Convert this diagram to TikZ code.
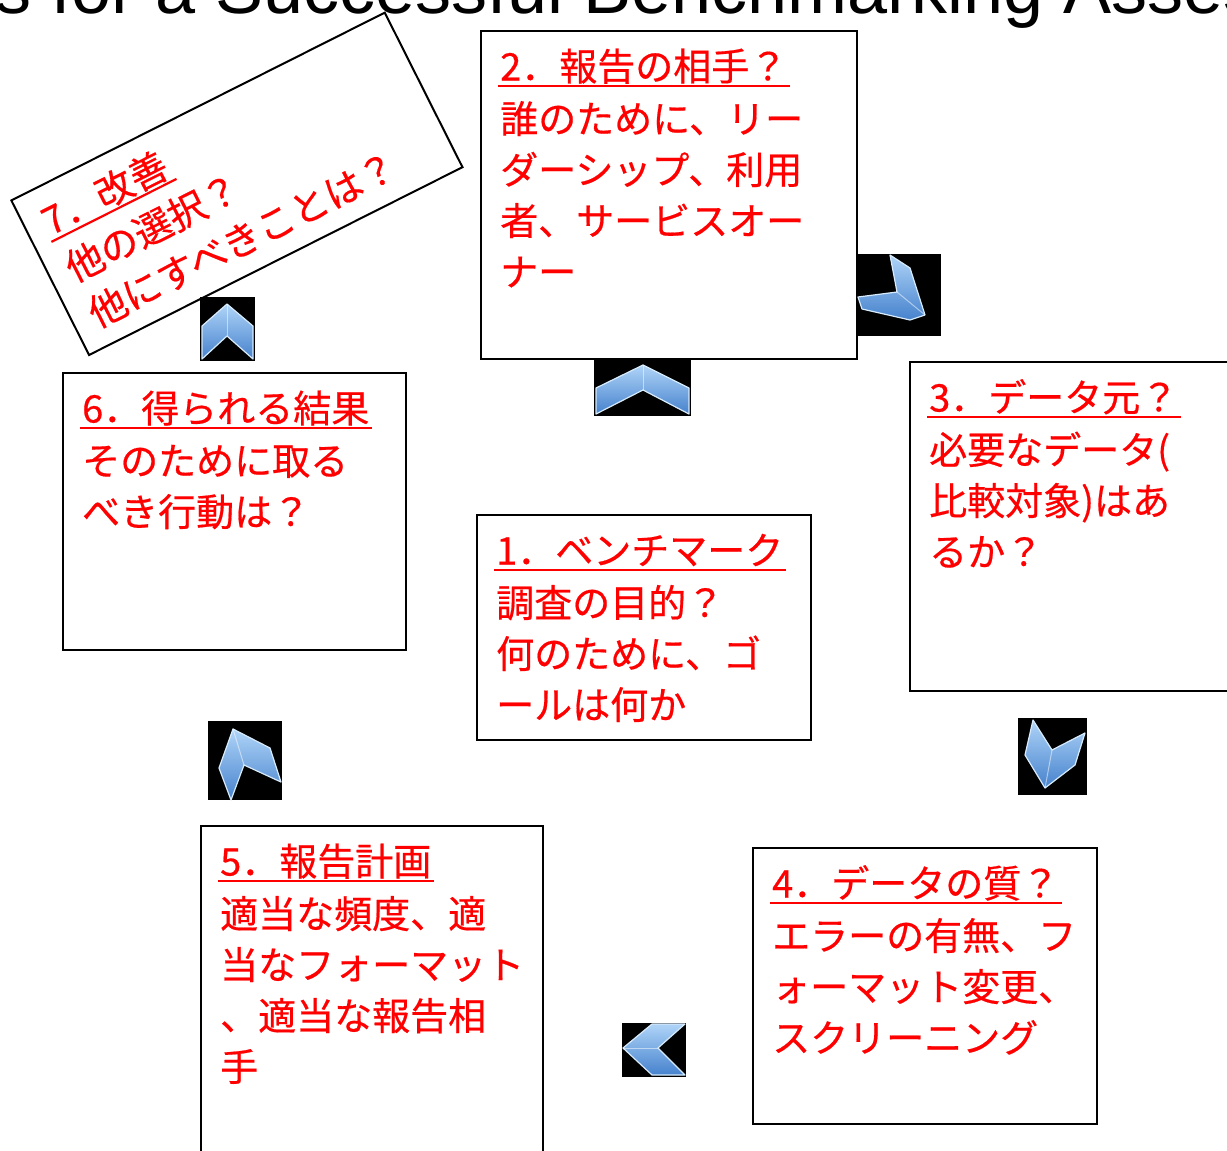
\documentclass[tikz,border=0pt]{standalone}
\usepackage{fontspec}
\setmainfont{Liberation Sans}
\newfontfamily\jp{Noto Sans CJK JP}[UprightFeatures={FakeBold=0.5}]
\usetikzlibrary{calc}
\definecolor{txtred}{RGB}{255,0,0}
\definecolor{chevlight}{RGB}{175,212,248}
\definecolor{chevdark}{RGB}{70,130,205}
\definecolor{chevedge}{RGB}{215,235,252}
\newcommand\headul[1]{\setbox0\hbox{#1}\rlap{\kern-2pt\raisebox{-6.6pt}{\rule{\dimexpr\wd0+5pt\relax}{2.2pt}}}\box0}
\newcommand\jhead[4]{\node[jtxt] (#1h) at ({#2+20},{#3+50.5}) {\headul{#4}};}
\begin{document}
\begin{tikzpicture}[x=1pt,y=-1pt,
  box/.style={draw=black,line width=2pt,fill=white,inner sep=0pt,anchor=north west},
  jtxt/.style={text=txtred,font={\jp\fontsize{38}{38}\selectfont},anchor=base west,inner sep=0pt},
  arrbg/.style={fill=black},
  chev/.style={top color=chevlight,bottom color=chevdark,draw=chevedge,line width=1.2pt,line join=round},
  ridge/.style={draw=white,opacity=0.5,line width=1pt}]
\useasboundingbox (0,0) rectangle (1227,1151);
\clip (0,0) rectangle (1227,1151);
\fill[white] (0,0) rectangle (1227,1151);

% title (cut off at top)
\node[anchor=base west,inner sep=0pt,font={\fontsize{72}{72}\selectfont}] (title) at (-153,13) {Steps for a Successful Benchmarking Assessment};

% box 2
\node[box,minimum width=376pt,minimum height=328pt] (b2) at (480,30) {};
\jhead{b2}{480}{30}{2．報告の相手？}
\foreach \t [count=\i] in {{誰のために、リー},{ダーシップ、利用},{者、サービスオー},{ナー}}
  \node[jtxt] (b2l\i) at ({480+20},{30+103+(\i-1)*51}) {\t};

% box 3
\node[box,minimum width=340pt,minimum height=329pt] (b3) at (909,361) {};
\jhead{b3}{909}{361}{3．データ元？}
\foreach \t [count=\i] in {{必要なデータ(},{比較対象)はあ},{るか？}}
  \node[jtxt] (b3l\i) at ({909+20},{361+103+(\i-1)*51}) {\t};

% box 1
\node[box,minimum width=334pt,minimum height=225pt] (b1) at (476,514) {};
\jhead{b1}{476}{514}{1．ベンチマーク}
\foreach \t [count=\i] in {{調査の目的？},{何のために、ゴ},{ールは何か}}
  \node[jtxt] (b1l\i) at ({476+20},{514+103+(\i-1)*51}) {\t};

% box 6
\node[box,minimum width=343pt,minimum height=277pt] (b6) at (62,372) {};
\jhead{b6}{62}{372}{6．得られる結果}
\foreach \t [count=\i] in {{そのために取る},{べき行動は？}}
  \node[jtxt] (b6l\i) at ({62+20},{372+103+(\i-1)*51}) {\t};

% box 5
\node[box,minimum width=342pt,minimum height=350pt] (b5) at (200,825) {};
\jhead{b5}{200}{825}{5．報告計画}
\foreach \t [count=\i] in {{適当な頻度、適},{当なフォーマット},{、適当な報告相},{手}}
  \node[jtxt] (b5l\i) at ({200+20},{825+103+(\i-1)*51}) {\t};

% box 4
\node[box,minimum width=344pt,minimum height=276pt] (b4) at (752,847) {};
\jhead{b4}{752}{847}{4．データの質？}
\foreach \t [count=\i] in {{エラーの有無、フ},{ォーマット変更、},{スクリーニング}}
  \node[jtxt] (b4l\i) at ({752+20},{847+103+(\i-1)*51}) {\t};

% box 7 (rotated)
\begin{scope}[shift={(10,200)},rotate=26.7,transform shape]
  \node[box,minimum width=418pt,minimum height=173pt] (b7) at (0,0) {};
  \jhead{b7}{0}{0}{7．改善}
  \foreach \t [count=\i] in {{他の選択？},{他にすべきことは？}}
    \node[jtxt] (b7l\i) at ({0+20},{0+103+(\i-1)*51}) {\t};
\end{scope}

% chevron arrows
% A1 (up, between 6 and 7)
\fill[arrbg] (200,297) rectangle (255,361);
\draw[chev] (227,304) -- (253,326) -- (253,359) -- (227,336) -- (202,359) -- (202,326) -- cycle;
\draw[ridge] (227,304) -- (227,336);
% A2 (up, below box 2)
\fill[arrbg] (594,358) rectangle (691,416);
\draw[chev] (643,365) -- (689,388) -- (689,414) -- (643,390) -- (596,414) -- (596,388) -- cycle;
\draw[ridge] (643,365) -- (643,390);
% A3 (box 2 to box 3)
\fill[arrbg] (856,254) rectangle (941,336);
\draw[chev] (890,255) -- (910,268) -- (925,315) -- (910,320) -- (862,309) -- (858,297) -- (897,292) -- cycle;
\draw[ridge] (897,292) -- (925,315);
% A4 (down, below box 3)
\fill[arrbg] (1018,718) rectangle (1087,795);
\draw[chev] (1033,720) -- (1052,750) -- (1085,733) -- (1075,765) -- (1045,788) -- (1025,755) -- cycle;
\draw[ridge] (1052,750) -- (1045,788);
% A5 (left, between 4 and 5)
\fill[arrbg] (622,1023) rectangle (686,1077);
\draw[chev] (623,1048) -- (652,1024) -- (685,1024) -- (658,1048) -- (685,1075) -- (652,1075) -- cycle;
\draw[ridge] (623,1048) -- (658,1048);
% A6 (up, between 5 and 6)
\fill[arrbg] (208,721) rectangle (282,800);
\draw[chev] (233,729) -- (270,748) -- (281,782) -- (244,765) -- (231,800) -- (219,768) -- cycle;
\draw[ridge] (233,729) -- (244,765);
\end{tikzpicture}
\end{document}
